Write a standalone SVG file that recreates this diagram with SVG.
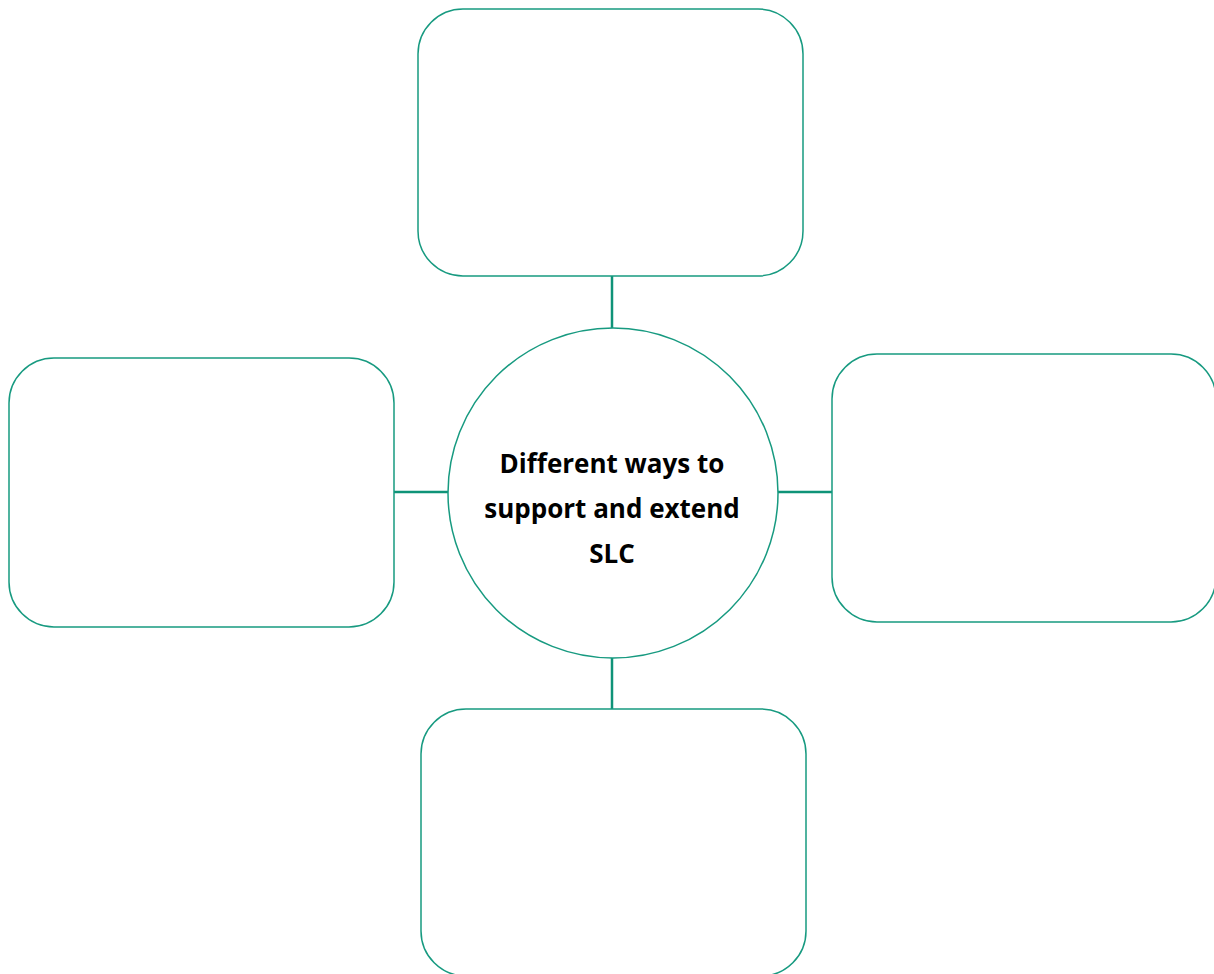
<svg xmlns="http://www.w3.org/2000/svg" width="1214" height="974" viewBox="0 0 1214 974">
<style>
.box{fill:#ffffff;stroke:#179a80;stroke-width:1.5}
.conn{stroke:#0f9378;stroke-width:2.5;fill:none}
.lbl{font-family:"Open Sans","Liberation Sans",Arial,sans-serif;font-weight:bold;font-size:26px;fill:#000000;text-anchor:middle}
</style>
<rect width="1214" height="974" fill="#ffffff"/>
<g id="connectors">
<line class="conn" x1="612" y1="276" x2="612" y2="328"/>
<line class="conn" x1="612" y1="658" x2="612" y2="709"/>
<line class="conn" x1="394" y1="492" x2="448" y2="492"/>
<line class="conn" x1="778" y1="492" x2="832" y2="492"/>
</g>
<g id="node-top"><rect class="box" x="418" y="9" width="385" height="267" rx="45" ry="45"/></g>
<g id="node-left"><rect class="box" x="9" y="358" width="385" height="269" rx="45" ry="45"/></g>
<g id="node-right"><rect class="box" x="832" y="354" width="384" height="268" rx="45" ry="45"/></g>
<g id="node-bottom"><rect class="box" x="421" y="709" width="385" height="267" rx="45" ry="45"/></g>
<g id="node-center">
<circle class="box" cx="613" cy="493" r="165"/>
<text class="lbl" x="612" y="473">Different ways to</text>
<text class="lbl" x="612" y="518">support and extend</text>
<text class="lbl" x="612" y="563">SLC</text>
</g>
</svg>
